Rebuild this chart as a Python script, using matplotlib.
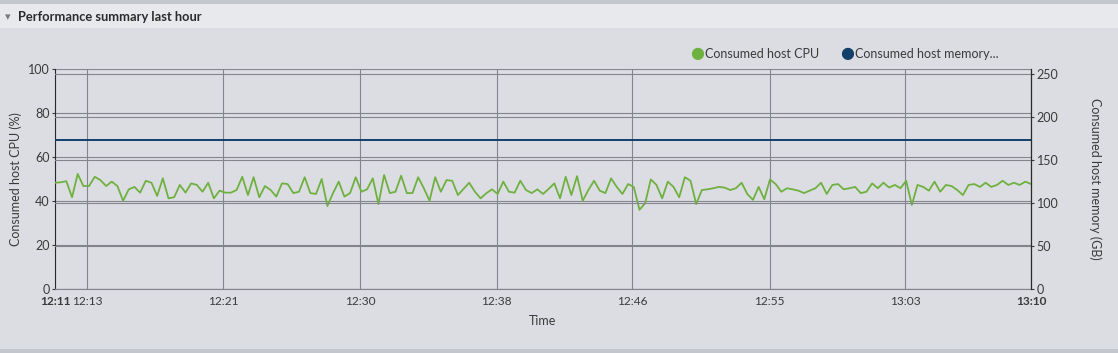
import matplotlib
matplotlib.use("Agg")
import matplotlib.pyplot as plt
import numpy as np
from matplotlib.patches import Rectangle

# Consumed host CPU (%), 12:11 -> 13:10
cpu_pct = [
    48.3, 48.5, 49.0, 41.7, 52.3, 46.8, 46.8, 51.0, 49.5, 46.8, 48.8, 46.8,
    40.1, 45.3, 46.4, 43.8, 49.2, 48.3, 42.3, 50.3, 41.2, 41.7, 47.3, 43.8,
    48.0, 47.3, 44.2, 48.3, 41.2, 44.7, 43.8, 43.8, 45.0, 51.0,
    42.7, 50.8, 41.7, 46.8, 45.0, 42.0, 48.0, 47.7, 43.6, 44.2, 50.8, 43.6,
    43.2, 50.0, 37.7, 43.6, 48.8, 42.0, 43.6, 50.8, 44.2, 45.3, 50.3, 38.6,
    51.8, 43.6, 44.2, 51.5, 43.6, 43.6, 50.8, 45.8, 40.1, 50.8, 44.2,
    49.5, 49.2, 42.7, 45.5, 48.3, 44.2, 41.2, 43.5, 45.3, 43.2, 48.8, 44.2,
    43.8, 49.2, 45.0, 43.6, 45.3, 43.2, 45.5, 48.0, 41.2, 51.0, 42.7, 51.3,
    40.1, 45.0, 49.2, 44.7, 43.6, 50.3, 46.4, 43.2, 47.7, 46.4, 36.0,
    39.0, 49.8, 47.3, 41.2, 48.8, 46.4, 41.7, 50.8, 49.2, 38.6, 45.0, 45.3,
    45.8, 46.4, 46.1, 45.0, 45.8, 48.3, 43.2, 40.5, 46.4, 40.8, 49.8, 47.7,
    44.2, 45.8, 45.3, 44.7, 43.6, 44.7, 45.8, 48.3, 43.2, 47.3, 47.7, 45.3,
    45.8,
    46.4, 43.6, 44.2, 48.0, 45.8, 48.3, 46.1, 47.3, 45.8, 49.2, 38.2, 47.3,
    46.4, 44.7, 48.8, 44.2, 47.3, 46.8, 45.0, 42.7, 47.3, 47.7, 46.4, 48.3,
    46.4, 47.3, 49.2, 47.3, 48.3, 47.3, 48.8, 47.7,
]
memory_gb = 172.7

span_minutes = 59
tick_minutes = [0, 1.93, 10.16, 18.44, 26.7, 34.9, 43.2, 51.4, 59]
tick_labels = ["12:11", "12:13", "12:21", "12:30", "12:38", "12:46", "12:55", "13:03", "13:10"]
cpu_ticks = [0, 20, 40, 60, 80, 100]
mem_ticks = [0, 50, 100, 150, 200, 250]

BG = "#dcdde3"
TEXT = "#3a3a3a"
GRID = "#83858c"
GREEN = "#6fb13f"
NAVY = "#123f6c"
FS = 9

plt.rcParams["font.family"] = ["Lato", "DejaVu Sans"]

fig = plt.figure(figsize=(11.18, 3.53), dpi=100, facecolor=BG)

# panel header strip and frame
fig.patches.append(Rectangle((0, 0.92), 1, 0.08, transform=fig.transFigure,
                             facecolor="#e8e9ed", edgecolor="none", zorder=-5))
fig.patches.append(Rectangle((0, 0.988), 1, 0.012, transform=fig.transFigure,
                             facecolor="#c3c6cd", edgecolor="none", zorder=-4))
fig.patches.append(Rectangle((0, 0), 1, 0.012, transform=fig.transFigure,
                             facecolor="#c3c6cd", edgecolor="none", zorder=-4))
fig.text(0.004, 0.951, "\u25be", fontsize=8, color="#7a7a7a", va="center",
         family=["DejaVu Sans"])
fig.text(0.016, 0.951, "Performance summary last hour", fontsize=9.3,
         fontweight="bold", color="#2b2b2b", va="center")

ax = fig.add_axes([55 / 1118, 64 / 353, 976 / 1118, 220 / 353])
ax.set_facecolor(BG)
times = np.linspace(0, span_minutes, len(cpu_pct))
ax.plot(times, cpu_pct, color=GREEN, lw=1.3, zorder=3,
        solid_joinstyle="round", solid_capstyle="round")
ax.set_xlim(0, span_minutes)
ax.set_ylim(0, 100)
ax.set_yticks(cpu_ticks)
ax.set_xticks(tick_minutes)
ax.set_xticklabels(tick_labels)
for lbl in (ax.get_xticklabels()[0], ax.get_xticklabels()[-1]):
    lbl.set_fontweight("bold")
ax.grid(True, color=GRID, lw=0.8)
ax.set_axisbelow(True)
ax.tick_params(axis="y", length=2, width=0.8, colors=TEXT, labelsize=FS, pad=2)
ax.tick_params(axis="x", length=0, colors=TEXT, labelsize=8.6, pad=5)
ax.set_ylabel("Consumed host CPU (%)", fontsize=FS, color=TEXT, labelpad=4)
ax.set_xlabel("Time", fontsize=FS, color=TEXT, labelpad=6)
ax.spines["top"].set_visible(False)
ax.spines["left"].set_color("#2a2a2a")
ax.spines["bottom"].set_color(GRID)

ax2 = ax.twinx()
ax2.plot([0, span_minutes], [memory_gb, memory_gb], color=NAVY, lw=1.4, zorder=3)
ax2.set_ylim(0, 255.8)
ax2.set_yticks(mem_ticks)
ax2.grid(True, axis="y", color=GRID, lw=0.8)
ax2.tick_params(axis="y", length=2, width=0.8, colors=TEXT, labelsize=FS, pad=2)
ax2.set_ylabel("Consumed host memory (GB)", fontsize=FS, color=TEXT,
               rotation=-90, labelpad=31)
for side in ("top", "left", "bottom"):
    ax2.spines[side].set_visible(False)
ax2.spines["right"].set_color("#2a2a2a")

# legend
ly = 1 - 54 / 353
fig.text(697 / 1118, ly, "\u25cf", color=GREEN, fontsize=11.5, ha="center",
         va="center", family=["DejaVu Sans"])
fig.text(705 / 1118, ly, "Consumed host CPU", color=TEXT, fontsize=FS, va="center")
fig.text(847 / 1118, ly, "\u25cf", color=NAVY, fontsize=11.5, ha="center",
         va="center", family=["DejaVu Sans"])
fig.text(855 / 1118, ly, "Consumed host memory...", color=TEXT, fontsize=FS,
         va="center")

fig.savefig("out.png", dpi=100, facecolor=BG)
